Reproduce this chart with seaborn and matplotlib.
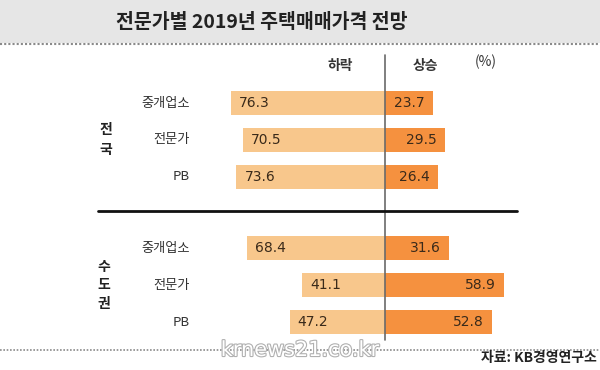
import matplotlib
matplotlib.use("Agg")
import matplotlib.pyplot as plt
import matplotlib.patheffects as pe
from matplotlib.lines import Line2D
from matplotlib.patches import Rectangle
import pandas as pd
import seaborn as sns

# data
groups = ["전국", "전국", "전국", "수도권", "수도권", "수도권"]
respondents = ["중개업소", "전문가", "PB", "중개업소", "전문가", "PB"]
fall = [76.3, 70.5, 73.6, 68.4, 41.1, 47.2]
rise = [23.7, 29.5, 26.4, 31.6, 58.9, 52.8]
group_labels = ["전\n국", "수\n도\n권"]

W, H = 600, 370
FALL_C = "#F8C78C"
RISE_C = "#F5913F"

sns.set_theme(style="white")
plt.rcParams["font.family"] = ["Noto Sans CJK KR", "DejaVu Sans"]

# row slots: 3 rows per group, with a gap between the two groups
gap = 0.93
slots = [i + (gap if i >= 3 else 0) for i in range(len(respondents))]

df = pd.DataFrame({
    "slot": slots * 2,
    "value": [-v for v in fall] + rise,
    "dir": ["하락"] * len(fall) + ["상승"] * len(rise),
})

fig = plt.figure(figsize=(W / 100, H / 100), dpi=100)
ax = fig.add_axes([0, 0, 1, 1])

px_per_unit = 2.02
cx, row0, row_h = 385, 103, 37
ax.set_xlim(-cx / px_per_unit, (W - cx) / px_per_unit)

sns.barplot(data=df, x="value", y="slot", hue="dir", orient="y",
            native_scale=True, dodge=False, width=0.65, errorbar=None,
            palette={"하락": FALL_C, "상승": RISE_C}, saturation=1,
            legend=False, linewidth=0, ax=ax)
ax.set_xlim(-cx / px_per_unit, (W - cx) / px_per_unit)
ax.set_ylim((H - row0) / row_h, -row0 / row_h)
ax.axis("off")

pad = 4
for s, name, f, r in zip(slots, respondents, fall, rise):
    ax.text(-f + pad, s, f"{f:.1f}", ha="left", va="center", fontsize=10,
            color="#3a2a1a", family=["DejaVu Sans"])
    ax.text(r - pad, s, f"{r:.1f}", ha="right", va="center", fontsize=10,
            color="#3a2a1a", family=["DejaVu Sans"])
    ax.text(-(cx - 190) / px_per_unit, s, name, ha="right", va="center",
            fontsize=9.5, color="#333333")

# group labels (vertical)
ax.text(-(cx - 106) / px_per_unit, sum(slots[:3]) / 3, group_labels[0],
        ha="center", va="center", fontsize=10, fontweight="bold",
        linespacing=1.5, color="#222222")
ax.text(-(cx - 104) / px_per_unit, sum(slots[3:]) / 3, group_labels[1],
        ha="center", va="center", fontsize=10, fontweight="bold",
        linespacing=1.4, color="#222222")

# centre axis line
fig.add_artist(Line2D([cx / W, cx / W], [1 - 55 / H, 1 - 340 / H],
                      color="#6a6a6a", lw=1.2))

# header labels
fig.text(340 / W, 1 - 66 / H, "하락", ha="center", va="center",
         fontsize=10, fontweight="bold", color="#333333")
fig.text(425 / W, 1 - 66 / H, "상승", ha="center", va="center",
         fontsize=10, fontweight="bold", color="#333333")
fig.text(486 / W, 1 - 62 / H, "(%)", ha="center", va="center",
         fontsize=10, color="#333333")

# title band
fig.add_artist(Rectangle((0, 1 - 43 / H), 1, 43 / H, transform=fig.transFigure,
                         facecolor="#E6E6E6", edgecolor="none", zorder=0))
fig.add_artist(Line2D([0, 1], [1 - 44 / H, 1 - 44 / H], color="#8a8a8a",
                      lw=1.5, ls=(0, (1, 1))))
fig.text(262 / W, 1 - 22 / H, "전문가별 2019년 주택매매가격 전망",
         ha="center", va="center", fontsize=14, fontweight="heavy",
         color="#222222")

# separator between groups
fig.add_artist(Line2D([98 / W, 517 / W], [1 - 211 / H, 1 - 211 / H],
                      color="#111111", lw=2))

# bottom dotted line, watermark and source
fig.add_artist(Line2D([0, 1], [1 - 350 / H, 1 - 350 / H], color="#8a8a8a",
                      lw=1.2, ls=(0, (1, 1))))
fig.text(300 / W, 1 - 350 / H, "krnews21.co.kr", ha="center", va="center",
         fontsize=15, color="white", family=["DejaVu Sans"],
         path_effects=[pe.withStroke(linewidth=1.6, foreground="#b0b0b0")])
fig.text(597 / W, 1 - 358 / H, "자료: KB경영연구소", ha="right", va="center",
         fontsize=10, fontweight="bold", color="#222222")

fig.savefig("out.png", dpi=100, facecolor="white")
